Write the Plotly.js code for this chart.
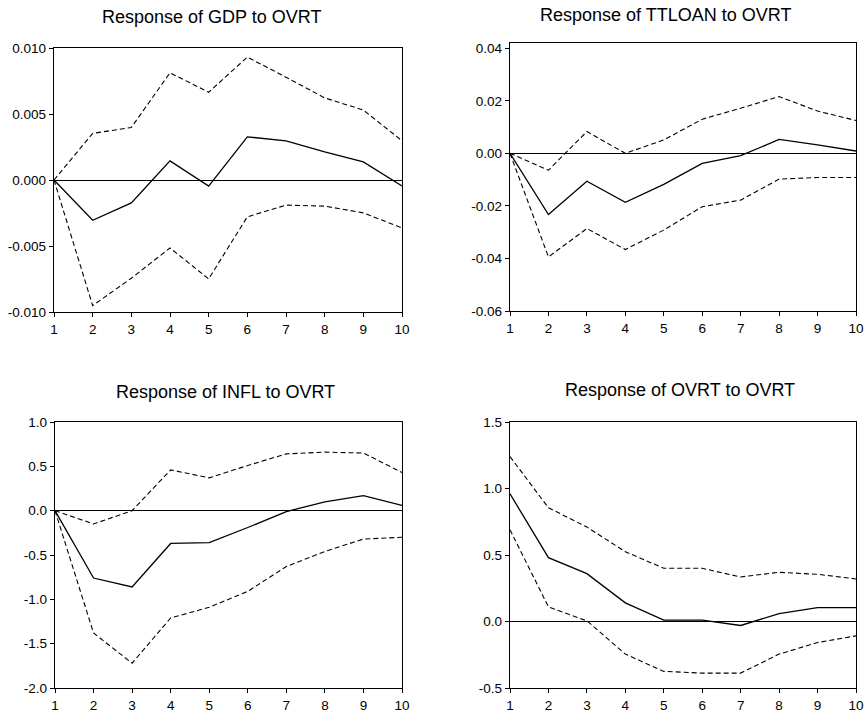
<!DOCTYPE html>
<html>
<head>
<meta charset="utf-8">
<script src="https://cdn.plot.ly/plotly-3.0.1.min.js"></script>
<style>html,body{margin:0;padding:0;background:#fff;}#chart{width:866px;height:716px;}</style>
</head>
<body>
<div id="chart"></div>
<script>
const periods = [1, 2, 3, 4, 5, 6, 7, 8, 9, 10];

const gdpResp  = [0, -0.00305, -0.00173, 0.00145, -0.00046, 0.00327, 0.00297, 0.00213, 0.00137, -0.00046];
const gdpUpper = [0, 0.00353, 0.00398, 0.00812, 0.00665, 0.00931, 0.00779, 0.00622, 0.0053, 0.00297];
const gdpLower = [0, -0.00952, -0.00744, -0.00515, -0.00749, -0.00279, -0.0019, -0.00198, -0.00249, -0.00363];

const loanResp  = [0, -0.0233, -0.0106, -0.0186, -0.0118, -0.0038, -0.0009, 0.0053, 0.0032, 0.0009];
const loanUpper = [0, -0.0064, 0.0083, 0.0, 0.0051, 0.013, 0.0172, 0.0216, 0.0161, 0.0125];
const loanLower = [0, -0.0394, -0.0286, -0.0366, -0.0292, -0.0203, -0.0178, -0.0098, -0.0092, -0.0092];

const inflResp  = [0, -0.76, -0.86, -0.37, -0.36, -0.19, -0.01, 0.10, 0.17, 0.06];
const inflUpper = [0, -0.15, 0.0, 0.46, 0.37, 0.51, 0.64, 0.66, 0.65, 0.43];
const inflLower = [0, -1.38, -1.72, -1.21, -1.09, -0.91, -0.63, -0.46, -0.32, -0.30];

const ovrtResp  = [0.96, 0.48, 0.36, 0.14, 0.01, 0.01, -0.03, 0.06, 0.105, 0.105];
const ovrtUpper = [1.24, 0.855, 0.71, 0.525, 0.40, 0.40, 0.335, 0.37, 0.355, 0.32];
const ovrtLower = [0.69, 0.11, 0.005, -0.245, -0.375, -0.388, -0.388, -0.245, -0.158, -0.108];

const titles = ["Response of GDP to OVRT", "Response of TTLOAN to OVRT", "Response of INFL to OVRT", "Response of OVRT to OVRT"];
const yTicks = [
  {vals: [-0.010, -0.005, 0.000, 0.005, 0.010], text: ["-0.010", "-0.005", "0.000", "0.005", "0.010"], range: [-0.010, 0.010]},
  {vals: [-0.06, -0.04, -0.02, 0.00, 0.02, 0.04], text: ["-0.06", "-0.04", "-0.02", "0.00", "0.02", "0.04"], range: [-0.06, 0.042]},
  {vals: [-2.0, -1.5, -1.0, -0.5, 0.0, 0.5, 1.0], text: ["-2.0", "-1.5", "-1.0", "-0.5", "0.0", "0.5", "1.0"], range: [-2.0, 1.0]},
  {vals: [-0.5, 0.0, 0.5, 1.0, 1.5], text: ["-0.5", "0.0", "0.5", "1.0", "1.5"], range: [-0.5, 1.5]}
];

const series = [
  [gdpResp, gdpUpper, gdpLower],
  [loanResp, loanUpper, loanLower],
  [inflResp, inflUpper, inflLower],
  [ovrtResp, ovrtUpper, ovrtLower]
];

const W = 866, H = 716;
const boxes = [
  {l: 54, r: 402, t: 48, b: 312},
  {l: 510, r: 856, t: 43, b: 311},
  {l: 55, r: 402, t: 422, b: 688},
  {l: 510, r: 856, t: 422, b: 688}
];
const titlePos = [[211, 17], [665, 15], [225, 392], [680, 390]];

const traces = [];
const layout = {
  width: W, height: H,
  margin: {l: 0, r: 0, t: 0, b: 0},
  paper_bgcolor: "#fff", plot_bgcolor: "#fff",
  showlegend: false,
  font: {family: "Liberation Sans, Arial, sans-serif", color: "#000", size: 13.5},
  annotations: []
};

series.forEach((s, i) => {
  const n = i === 0 ? "" : String(i + 1);
  const xa = "x" + n, ya = "y" + n;
  traces.push({x: periods, y: s[0], xaxis: xa, yaxis: ya, mode: "lines", line: {color: "#000", width: 1.3}});
  traces.push({x: periods, y: s[1], xaxis: xa, yaxis: ya, mode: "lines", line: {color: "#000", width: 1.1, dash: "5px,3px"}});
  traces.push({x: periods, y: s[2], xaxis: xa, yaxis: ya, mode: "lines", line: {color: "#000", width: 1.1, dash: "5px,3px"}});
  const b = boxes[i];
  layout["xaxis" + n] = {
    domain: [b.l / W, b.r / W], anchor: ya, range: [1, 10],
    tickvals: periods, ticktext: periods.map(String),
    ticks: "outside", ticklen: 4, tickcolor: "#000",
    showline: true, mirror: true, linecolor: "#000", linewidth: 1.3,
    showgrid: false, zeroline: false, tickfont: {size: 13.5}
  };
  layout["yaxis" + n] = {
    domain: [1 - b.b / H, 1 - b.t / H], anchor: xa, range: yTicks[i].range,
    tickvals: yTicks[i].vals, ticktext: yTicks[i].text,
    ticks: "outside", ticklen: 4, tickcolor: "#000",
    showline: true, mirror: true, linecolor: "#000", linewidth: 1.3,
    showgrid: false, zeroline: true, zerolinecolor: "#000", zerolinewidth: 1,
    tickfont: {size: 13.5}
  };
  layout.annotations.push({
    text: titles[i], xref: "paper", yref: "paper",
    x: titlePos[i][0] / W, y: 1 - titlePos[i][1] / H,
    xanchor: "center", yanchor: "middle", showarrow: false,
    font: {size: 18, color: "#000"}
  });
});

Plotly.newPlot("chart", traces, layout, {staticPlot: true});
</script>
</body>
</html>
